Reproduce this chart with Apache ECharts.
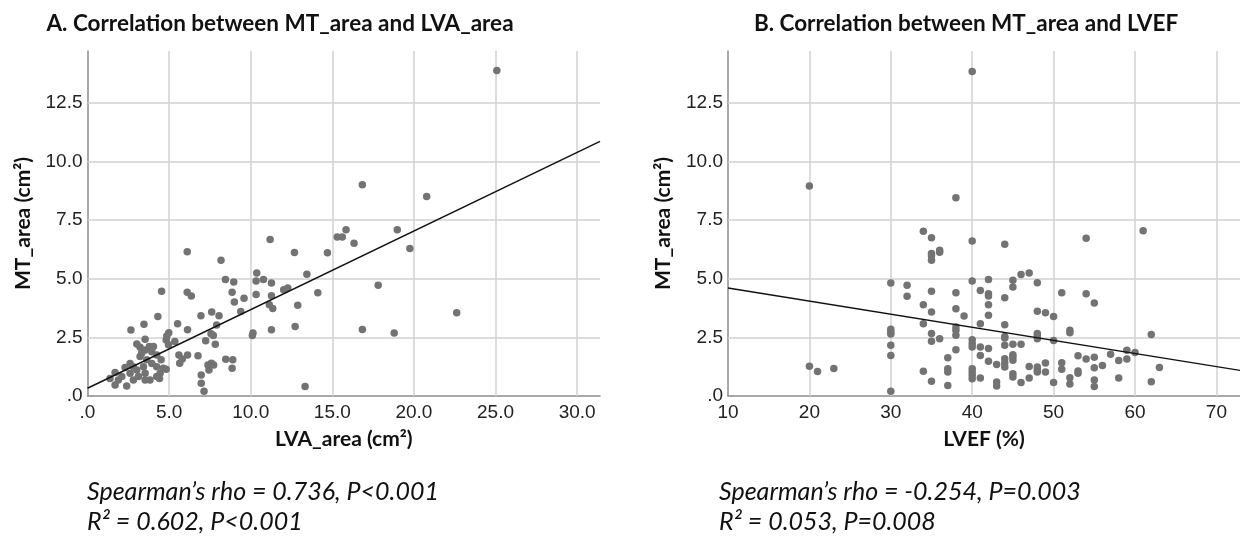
<!DOCTYPE html>
<html>
<head>
<meta charset="utf-8">
<script src="https://cdn.jsdelivr.net/npm/echarts@6/dist/echarts.min.js"></script>
<style>
  html, body { margin: 0; padding: 0; background: #fff; }
  #chart { width: 1240px; height: 539px; }
</style>
</head>
<body>
<div id="chart"></div>
<script>
// panel A: LVA_area (x) vs MT_area (y)
var lvaArea = [
  11.19, 6.11, 14.7, 12.68, 15.3, 8.18, 10.37, 8.45, 8.96, 10.78, 10.33, 11.27, 13.44,
  4.54, 6.11, 6.36, 8.86, 9.59, 9.0, 10.33, 11.27, 12.02, 12.27, 14.11, 12.88, 11.14,
  11.35, 9.39, 7.61, 8.06, 6.95, 4.31, 3.46, 5.52, 2.66, 6.13, 7.91, 7.57, 7.71, 7.24, 7.83,
  4.98, 4.86, 4.82, 5.35, 4.96,
  2.61, 2.30, 1.69, 1.38, 1.69, 1.89, 2.40, 2.81, 3.12, 3.53, 3.83, 4.24, 4.45, 4.65, 4.24,
  3.94, 3.63, 3.22, 3.43, 3.02, 2.81, 2.61, 2.10, 3.53, 4.41, 3.02, 3.22, 3.53, 3.79, 4.04,
  3.94, 4.24, 3.32, 3.53, 4.51, 4.82,
  5.6, 5.65, 5.81, 6.13, 6.77, 8.47, 8.9, 8.86, 6.97, 6.97, 7.14, 7.44, 7.38, 7.59, 7.73,
  10.1, 10.14, 11.27, 12.72, 13.33, 25.08, 16.84, 20.78, 15.61, 15.84, 16.33, 18.98, 19.75,
  17.81, 16.84, 18.79, 22.62
];
var mtAreaA = [
  6.67, 6.15, 6.1, 6.11, 6.78, 5.78, 5.24, 4.96, 4.86, 4.96, 4.9, 4.81, 5.19,
  4.46, 4.42, 4.26, 4.42, 4.17, 4.0, 4.33, 4.27, 4.53, 4.6, 4.4, 3.87, 3.89,
  3.73, 3.6, 3.58, 3.42, 3.42, 3.39, 3.06, 3.08, 2.81, 2.82, 3.02, 2.65, 2.58, 2.35, 2.21,
  2.7, 2.56, 2.39, 2.32, 2.18,
  1.39, 1.21, 1.0, 0.75, 0.47, 0.68, 0.43, 0.68, 0.83, 0.97, 0.68, 0.83, 0.97, 1.18, 1.25,
  1.39, 1.54, 1.68, 1.25, 1.11, 1.25, 0.97, 0.83, 0.68, 0.75, 2.22, 2.08, 1.96, 2.11, 2.11,
  1.89, 1.75, 1.82, 2.42, 1.54, 1.14,
  1.75, 1.4, 1.58, 1.75, 1.72, 1.57, 1.54, 1.18, 0.9, 0.54, 0.2, 1.11, 1.32, 1.4, 1.32,
  2.58, 2.68, 2.82, 2.96, 0.41, 13.87, 9.0, 8.5, 6.78, 7.08, 6.51, 7.08, 6.28,
  4.72, 2.83, 2.68, 3.55
];
var fitA = { intercept: 0.33, slope: 0.335 };

// panel B: LVEF (x) vs MT_area (y)
var lvef = [
  20, 20, 21, 23, 40, 38, 34, 35, 35, 35, 36, 36, 40, 44, 54, 61,
  30, 30, 30, 30, 30, 30, 30, 32, 32, 34, 34, 34, 35, 35, 35, 35, 35, 35, 36,
  37, 37, 37, 37, 38, 38, 38, 38, 38, 38, 39,
  40, 40, 40, 40, 40, 40, 40, 40, 41, 41, 41, 41, 41,
  42, 42, 42, 42, 42, 42, 42, 43, 43, 43,
  44, 44, 44, 44, 44, 44, 44, 44, 45, 45, 45, 45, 45, 45, 45, 45,
  46, 46, 46, 47, 47, 47, 48, 48, 48, 48, 48, 48, 48, 48, 49, 49, 49,
  50, 50, 50, 51, 51, 51, 52, 52, 52, 52,
  53, 53, 53, 54, 54, 55, 55, 55, 55, 55, 56, 57, 58, 58, 59, 59, 60, 62, 62, 63
];
var mtAreaB = [
  8.95, 1.27, 1.04, 1.17, 13.83, 8.45, 7.02, 6.74, 6.07, 5.98, 6.21, 6.12, 6.6, 6.47, 6.72, 7.04,
  4.82, 2.84, 2.73, 2.64, 2.16, 1.73, 0.2, 4.72, 4.25, 3.89, 3.08, 1.05, 5.78, 4.46, 3.58, 2.66, 2.33, 0.63, 2.44,
  1.63, 1.16, 1.02, 0.45, 4.4, 3.72, 2.94, 2.8, 2.59, 1.97, 3.41,
  4.9, 2.4, 2.23, 2.09, 1.16, 1.02, 0.88, 0.74, 4.5, 3.08, 2.09, 1.73, 0.77,
  4.96, 4.36, 4.26, 3.89, 3.44, 2.02, 1.48, 1.34, 0.6, 0.43,
  4.19, 3.04, 2.54, 2.47, 2.16, 1.59, 1.41, 1.24, 4.93, 4.64, 2.2, 1.76, 1.66, 1.52, 0.95, 0.81,
  5.18, 2.2, 0.57, 5.24, 1.26, 0.77, 4.83, 3.61, 2.66, 2.56, 2.44, 1.24, 1.12, 1.02, 3.55, 1.41, 1.02,
  3.39, 2.36, 0.57, 4.4, 1.42, 1.14, 2.8, 2.7, 0.78, 0.51,
  1.72, 1.07, 0.97, 4.36, 1.58, 3.96, 1.65, 1.2, 0.68, 0.4, 1.3, 1.78, 1.51, 0.77, 1.95, 1.58, 1.85, 2.62, 0.61, 1.21
];
var fitB = { intercept: 5.16, slope: -0.0558 };

var xTicksA = [0, 5, 10, 15, 20, 25, 30];
var xTicksB = [10, 20, 30, 40, 50, 60, 70];
var yTicks = [0, 2.5, 5, 7.5, 10, 12.5];
var xRangeA = [0, 31.4];
var xRangeB = [10, 72.9];
var yRange = [0, 14.7];

var GRID_COLOR = '#d2d2d2';
var AXIS_COLOR = '#8c8c8c';
var DOT_COLOR = '#737373';
var TEXT_FONT = 'Lato';
var TICK_FONT = 'Liberation Sans';

function pairs(xs, ys) {
  return xs.map(function (x, i) { return [x, ys[i]]; });
}

function fitLine(fit, range) {
  return range.map(function (x) { return [x, fit.intercept + fit.slope * x]; });
}

function gridMarks(xTicks, xmin) {
  var d = [];
  xTicks.forEach(function (t) { if (t !== xmin) d.push({ xAxis: t }); });
  yTicks.forEach(function (t) { if (t !== 0) d.push({ yAxis: t }); });
  return d;
}

function fmtDec(v) {
  if (v === 0) return '.0';
  return v.toFixed(1);
}

function makeXAxis(idx, range, step, name, fmt) {
  return {
    type: 'value', gridIndex: idx, min: range[0], max: range[1], interval: step,
    name: name, nameLocation: 'middle', nameGap: 33,
    nameTextStyle: { fontFamily: TEXT_FONT, fontWeight: 'bold', fontSize: 21, color: '#111' },
    axisLine: { show: true, onZero: false, lineStyle: { color: AXIS_COLOR, width: 1.5 } },
    axisTick: { show: false },
    splitLine: { show: false },
    axisLabel: {
      fontFamily: TICK_FONT, fontSize: 19, color: '#222', margin: 7,
      showMaxLabel: false,
      formatter: function (v) { return (Math.abs(v / step - Math.round(v / step)) > 1e-6) ? '' : fmt(v); }
    }
  };
}

function makeYAxis(idx, name) {
  return {
    type: 'value', gridIndex: idx, min: yRange[0], max: yRange[1], interval: 2.5,
    name: name, nameLocation: 'middle', nameGap: 54,
    nameTextStyle: { fontFamily: TEXT_FONT, fontWeight: 'bold', fontSize: 21, color: '#111' },
    axisLine: { show: true, onZero: false, lineStyle: { color: AXIS_COLOR, width: 1.5 } },
    axisTick: { show: false },
    splitLine: { show: false },
    axisLabel: {
      fontFamily: TICK_FONT, fontSize: 19, color: '#222', margin: 5,
      showMaxLabel: false,
      formatter: function (v) { return (Math.abs(v / 2.5 - Math.round(v / 2.5)) > 1e-6) ? '' : fmtDec(v); }
    }
  };
}

function gridSeries(idx, xTicks, xmin) {
  return {
    type: 'line', xAxisIndex: idx, yAxisIndex: idx, data: [], silent: true, z: 1,
    markLine: {
      silent: true, symbol: 'none', z: 1, animation: false,
      label: { show: false },
      lineStyle: { color: GRID_COLOR, width: 1.5, type: 'solid' },
      data: gridMarks(xTicks, xmin)
    }
  };
}

function dotSeries(idx, data) {
  return {
    type: 'scatter', xAxisIndex: idx, yAxisIndex: idx, data: data, z: 3,
    symbolSize: 7.5, itemStyle: { color: DOT_COLOR, opacity: 1 }
  };
}

function lineSeries(idx, data) {
  return {
    type: 'line', xAxisIndex: idx, yAxisIndex: idx, data: data, z: 4,
    showSymbol: false, symbol: 'none', silent: true,
    lineStyle: { color: '#111', width: 1.4 }
  };
}

function statText(x, lines) {
  return {
    type: 'text', left: x, top: 477,
    style: {
      text: lines.join('\n'), fill: '#111', lineHeight: 30,
      font: 'italic 25px ' + TEXT_FONT
    }
  };
}

var option = {
  animation: false,
  backgroundColor: '#ffffff',
  grid: [
    { left: 87.5, top: 51, width: 512.5, height: 345 },
    { left: 728, top: 51, width: 512, height: 345 }
  ],
  xAxis: [
    makeXAxis(0, xRangeA, 5, 'LVA_area (cm²)', fmtDec),
    makeXAxis(1, xRangeB, 10, 'LVEF (%)', function (v) { return String(v); })
  ],
  yAxis: [
    makeYAxis(0, 'MT_area (cm²)'),
    makeYAxis(1, 'MT_area (cm²)')
  ],
  graphic: [
    {
      type: 'text', x: 280, y: 24,
      style: { text: 'A. Correlation between MT_area and LVA_area', fill: '#111',
        font: 'bold 22.5px ' + TEXT_FONT, textAlign: 'center', textVerticalAlign: 'middle' }
    },
    {
      type: 'text', x: 966, y: 24,
      style: { text: 'B. Correlation between MT_area and LVEF', fill: '#111',
        font: 'bold 22.5px ' + TEXT_FONT, textAlign: 'center', textVerticalAlign: 'middle' }
    },
    statText(87, ['Spearman’s rho = 0.736, P<0.001', 'R² = 0.602, P<0.001']),
    statText(719, ['Spearman’s rho = -0.254, P=0.003', 'R² = 0.053, P=0.008'])
  ],
  series: [
    gridSeries(0, xTicksA, xRangeA[0]),
    gridSeries(1, xTicksB, xRangeB[0]),
    dotSeries(0, pairs(lvaArea, mtAreaA)),
    dotSeries(1, pairs(lvef, mtAreaB)),
    lineSeries(0, fitLine(fitA, xRangeA)),
    lineSeries(1, fitLine(fitB, xRangeB))
  ]
};

var chart = echarts.init(document.getElementById('chart'), null, { renderer: 'canvas' });
chart.setOption(option);
</script>
</body>
</html>
